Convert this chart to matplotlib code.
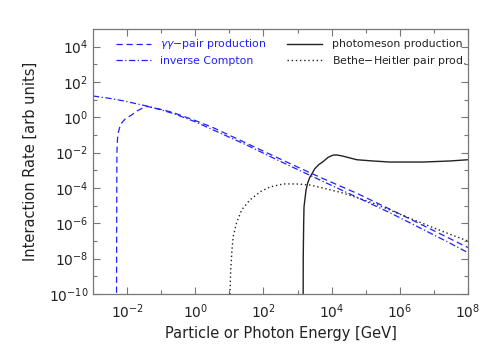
import numpy as np
import matplotlib
matplotlib.use("Agg")
import matplotlib.pyplot as plt
from matplotlib.ticker import NullFormatter

# values, as log10(E [GeV]) and log10(rate)
ic_logE = [-3.0, -2.5, -2.12, -1.42, -1.0, -0.65, 0.0, 0.34, 1.52, 2.48, 3.36, 3.74, 4.74, 5.71, 6.38, 7.38, 8.0]
ic_logR = [1.21, 1.07, 0.94, 0.64, 0.42, 0.22, -0.25, -0.55, -1.58, -2.48, -3.28, -3.62, -4.52, -5.40, -6.05, -7.03, -7.66]

gg_logE = [-2.31, -2.305, -2.30, -2.296, -2.29, -2.28, -2.26, -2.22, -2.16, -2.05, -1.87, -1.72, -1.57, -1.42,
           -1.0, -0.65, 0.0, 0.52, 1.52, 2.48, 3.36, 3.74, 4.74, 5.71, 6.38, 7.38, 8.0]
gg_logR = [-10.5, -6.0, -2.6, -1.85, -1.5, -1.2, -0.89, -0.58, -0.32, -0.08, 0.13, 0.35, 0.50, 0.62,
           0.45, 0.27, -0.18, -0.58, -1.48, -2.35, -3.13, -3.46, -4.30, -5.20, -5.83, -6.78, -7.37]

pm_logE = [3.165, 3.167, 3.18, 3.19, 3.25, 3.30, 3.36, 3.45, 3.51, 3.62, 3.74, 3.90, 4.04, 4.15, 4.30, 4.54,
           4.74, 5.21, 5.71, 6.68, 7.47, 8.0]
pm_logR = [-10.5, -8.0, -6.0, -5.07, -4.11, -3.70, -3.40, -3.10, -2.90, -2.68, -2.52, -2.26, -2.14, -2.13, -2.18, -2.30,
           -2.40, -2.47, -2.53, -2.53, -2.47, -2.40]

bh_logE = [1.015, 1.018, 1.04, 1.07, 1.11, 1.21, 1.36, 1.60, 1.90, 2.19, 2.58, 2.97, 3.36, 3.74, 4.33, 5.21, 6.38, 7.38, 8.0]
bh_logR = [-10.5, -10.0, -8.64, -7.68, -6.77, -5.98, -5.24, -4.68, -4.22, -3.94, -3.77, -3.77, -3.83, -4.00, -4.28, -4.85, -5.78, -6.55, -7.00]

blue = "#2020ff"
grey = "#777777"
dark = "#222222"

fig = plt.figure(figsize=(4.96, 3.54), dpi=100)
ax = fig.add_axes([0.1875, 0.1695, 0.756, 0.7485])

ax.plot(10**np.array(gg_logE), 10**np.array(gg_logR), color=blue, lw=0.9,
        ls=(0, (5, 3)), label=r"$\gamma\gamma$$-$pair production")
ax.plot(10**np.array(ic_logE), 10**np.array(ic_logR), color=blue, lw=0.9,
        ls=(0, (5, 2, 1, 2)), label="inverse Compton")
ax.plot(10**np.array(pm_logE), 10**np.array(pm_logR), color=dark, lw=1.0,
        ls="-", label="photomeson production")
ax.plot(10**np.array(bh_logE), 10**np.array(bh_logR), color=dark, lw=1.0,
        ls=(0, (1, 2)), label="Bethe$-$Heitler pair prod.")

ax.set_xscale("log")
ax.set_yscale("log")
ax.set_xlim(1e-3, 1e8)
ax.set_ylim(1e-10, 1e5)

xt = [1e-2, 1e0, 1e2, 1e4, 1e6, 1e8]
ax.set_xticks(xt)
ax.set_xticklabels([r"$10^{%d}$" % int(np.log10(v)) for v in xt])
ax.set_xticks([1e-1, 1e1, 1e3, 1e5, 1e7], minor=True)
yt = [1e-10, 1e-8, 1e-6, 1e-4, 1e-2, 1e0, 1e2, 1e4]
ax.set_yticks(yt)
ax.set_yticklabels([r"$10^{%d}$" % int(np.log10(v)) for v in yt])
ax.set_yticks([1e-9, 1e-7, 1e-5, 1e-3, 1e-1, 1e1, 1e3], minor=True)
ax.xaxis.set_minor_formatter(NullFormatter())
ax.yaxis.set_minor_formatter(NullFormatter())

ax.tick_params(which="both", direction="in", top=True, right=True, color=grey,
               labelsize=10, labelcolor=dark, width=0.8)
ax.tick_params(which="major", length=5)
ax.tick_params(which="minor", length=3)
ax.tick_params(axis="x", pad=6)
for s in ax.spines.values():
    s.set_color(grey)
    s.set_linewidth(0.9)

ax.set_xlabel("Particle or Photon Energy [GeV]", fontsize=10.5, color=dark)
ax.set_ylabel("Interaction Rate [arb units]", fontsize=10.5, color=dark, labelpad=8)

leg = ax.legend(loc="upper left", ncol=2, frameon=False, fontsize=7.8,
                handlelength=3.2, columnspacing=1.9, handletextpad=0.9,
                labelspacing=0.4, bbox_to_anchor=(0.035, 1.005))
for txt, c in zip(leg.get_texts(), [blue, blue, dark, dark]):
    txt.set_color(c)

fig.savefig("out.png", dpi=100)
